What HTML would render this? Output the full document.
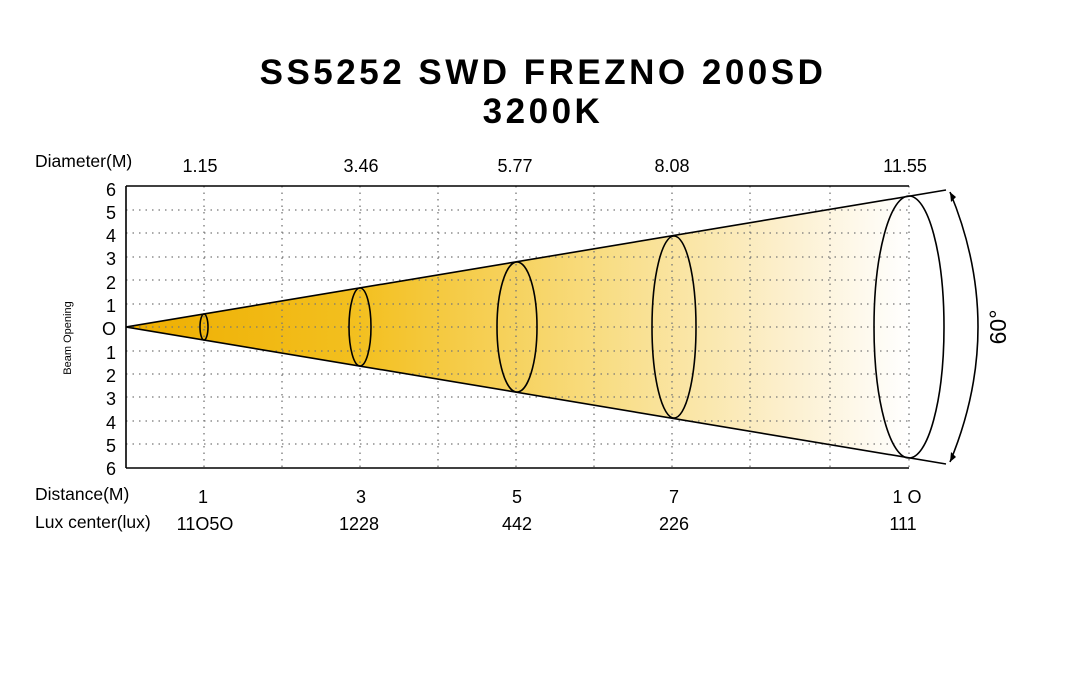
<!DOCTYPE html>
<html><head><style>
body{margin:0;background:#fff;width:1067px;height:680px;overflow:hidden;font-family:"Liberation Sans","DejaVu Sans",sans-serif;}
</style></head><body>
<svg width="1067" height="680" xmlns="http://www.w3.org/2000/svg" font-family="Liberation Sans, DejaVu Sans, sans-serif">
<defs>
<linearGradient id="g" x1="126" y1="0" x2="909" y2="0" gradientUnits="userSpaceOnUse">
<stop offset="0" stop-color="#eeae00"/>
<stop offset="0.3" stop-color="#f3c020"/>
<stop offset="0.6" stop-color="#f8dc80"/>
<stop offset="0.85" stop-color="#fcf0d0"/>
<stop offset="1" stop-color="#ffffff"/>
</linearGradient>
</defs>
<text x="543" y="84" text-anchor="middle" font-size="35" font-weight="bold" letter-spacing="3.5">SS5252 SWD FREZNO 200SD</text>
<text x="543" y="123" text-anchor="middle" font-size="35" font-weight="bold" letter-spacing="3.5">3200K</text>
<polygon points="126,327 909,196 909,458" fill="url(#g)"/>
<g stroke="#777" stroke-width="1.3" stroke-dasharray="1.5,5" fill="none">
<path d="M126 210H909M126 233H909M126 257H909M126 280H909M126 304H909M126 327H909M126 351H909M126 374H909M126 397H909M126 421H909M126 444H909"/>
<path d="M204 186V468M282 186V468M360 186V468M438 186V468M516 186V468M594 186V468M672 186V468M750 186V468M830 186V468M909 186V468"/>
</g>
<g stroke="#000" fill="none" stroke-width="1.6">
<path d="M126 186V468M126 186H909M126 468H909"/>
<path d="M126 327L946 190M126 327L946 464"/>
<ellipse cx="204" cy="327" rx="4" ry="13"/>
<ellipse cx="360" cy="327" rx="11" ry="39"/>
<ellipse cx="517" cy="327" rx="20" ry="65"/>
<ellipse cx="674" cy="327" rx="22" ry="91"/>
<ellipse cx="909" cy="327" rx="35" ry="131"/>
<path d="M950 192Q1006 327 950 462"/>
</g>
<path d="M950 192l1 10 5-5z M950 462l1-10 5 5z" fill="#000"/>
<text transform="translate(1006,327) rotate(-90)" text-anchor="middle" font-size="23">60°</text>
<g font-size="18" text-anchor="end">
<text x="116" y="196">6</text><text x="116" y="219">5</text><text x="116" y="242">4</text><text x="116" y="265">3</text><text x="116" y="289">2</text><text x="116" y="312">1</text><text x="116" y="335">O</text><text x="116" y="359">1</text><text x="116" y="382">2</text><text x="116" y="405">3</text><text x="116" y="429">4</text><text x="116" y="452">5</text><text x="116" y="475">6</text>
</g>
<text transform="translate(71,338) rotate(-90)" text-anchor="middle" font-size="11">Beam Opening</text>
<g font-size="17.5">
<text x="35" y="167">Diameter(M)</text>
<text x="35" y="500">Distance(M)</text>
<text x="35" y="528">Lux center(lux)</text>
</g>
<g font-size="18" text-anchor="middle">
<text x="200" y="172">1.15</text><text x="361" y="172">3.46</text><text x="515" y="172">5.77</text><text x="672" y="172">8.08</text><text x="905" y="172">11.55</text>
<text x="203" y="503">1</text><text x="361" y="503">3</text><text x="517" y="503">5</text><text x="674" y="503">7</text><text x="907" y="503">1 O</text>
<text x="205" y="530">11O5O</text><text x="359" y="530">1228</text><text x="517" y="530">442</text><text x="674" y="530">226</text><text x="903" y="530">111</text>
</g>
</svg>
</body></html>
